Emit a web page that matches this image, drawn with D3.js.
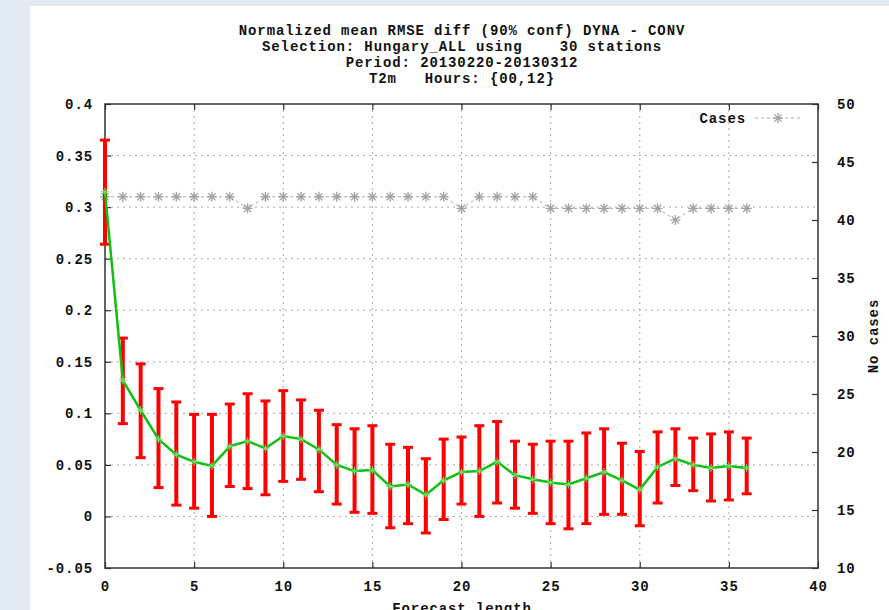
<!DOCTYPE html>
<html>
<head>
<meta charset="utf-8">
<script src="https://cdn.jsdelivr.net/npm/d3@7"></script>
<style>
  body { margin: 0; background: #e1ebf1; }
  svg { display: block; }
  text { font-family: "Liberation Mono", "DejaVu Sans Mono", monospace; font-weight: bold; font-size: 14px; letter-spacing: 0.9px; fill: #111; white-space: pre; }
</style>
</head>
<body>
<script>
// metrics
const width = 889, height = 610;
const plotLeft = 105, plotRight = 818, plotTop = 104, plotBottom = 568;

// data
const titleLines = [
  "Normalized mean RMSE diff (90% conf) DYNA - CONV",
  "Selection: Hungary_ALL using    30 stations",
  "Period: 20130220-20130312",
  "T2m   Hours: {00,12}"
];
const leadTimes = d3.range(0, 37);
const meanDiff = [0.315, 0.132, 0.103, 0.075, 0.060, 0.053, 0.049, 0.068, 0.073, 0.066,
  0.078, 0.075, 0.065, 0.050, 0.044, 0.045, 0.029, 0.031, 0.021, 0.035,
  0.043, 0.044, 0.053, 0.040, 0.036, 0.033, 0.031, 0.037, 0.043, 0.035,
  0.026, 0.048, 0.056, 0.050, 0.047, 0.049, 0.047];
const ciHigh = [0.365, 0.173, 0.148, 0.124, 0.111, 0.099, 0.099, 0.109, 0.119, 0.112,
  0.122, 0.113, 0.103, 0.089, 0.085, 0.088, 0.070, 0.067, 0.056, 0.075,
  0.077, 0.088, 0.092, 0.073, 0.070, 0.073, 0.073, 0.081, 0.085, 0.071,
  0.063, 0.082, 0.085, 0.076, 0.080, 0.082, 0.076];
const ciLow = [0.264, 0.090, 0.057, 0.028, 0.011, 0.008, 0.000, 0.029, 0.027, 0.021,
  0.034, 0.036, 0.024, 0.012, 0.004, 0.003, -0.011, -0.007, -0.016, -0.003,
  0.012, 0.000, 0.013, 0.008, 0.003, -0.007, -0.012, -0.007, 0.002, 0.002,
  -0.009, 0.013, 0.030, 0.025, 0.015, 0.016, 0.022];
const cases = [42, 42, 42, 42, 42, 42, 42, 42, 41, 42,
  42, 42, 42, 42, 42, 42, 42, 42, 42, 42,
  41, 42, 42, 42, 42, 41, 41, 41, 41, 41,
  41, 41, 40, 41, 41, 41, 41];
const xTicks = [0, 5, 10, 15, 20, 25, 30, 35, 40];
const yTicks = [-0.05, 0, 0.05, 0.1, 0.15, 0.2, 0.25, 0.3, 0.35, 0.4];
const y2Ticks = [10, 15, 20, 25, 30, 35, 40, 45, 50];

// elements
const svg = d3.select('body').append('svg')
  .attr('width', width)
  .attr('height', height);

svg.append('rect')
  .attr('x', 30).attr('y', 6)
  .attr('width', width - 30).attr('height', height - 6)
  .attr('fill', '#fff');

// scales
const xScale = d3.scaleLinear().domain([0, 40]).range([plotLeft, plotRight]);
const yScale = d3.scaleLinear().domain([-0.05, 0.4]).range([plotBottom, plotTop]);
const y2Scale = d3.scaleLinear().domain([10, 50]).range([plotBottom, plotTop]);

// title
svg.append('g').selectAll('text')
  .data(titleLines)
  .join('text')
  .attr('x', 462)
  .attr('y', (d, i) => 35 + i * 16)
  .attr('text-anchor', 'middle')
  .text(d => d);

// grid
const grid = svg.append('g')
  .attr('stroke', '#a8a8a8')
  .attr('stroke-dasharray', '2,4');
grid.selectAll('.gx')
  .data(xTicks.slice(1, -1))
  .join('line')
  .attr('x1', d => xScale(d)).attr('x2', d => xScale(d))
  .attr('y1', plotTop).attr('y2', plotBottom);
grid.selectAll('.gy')
  .data(yTicks.slice(1, -1))
  .join('line')
  .attr('x1', plotLeft).attr('x2', plotRight)
  .attr('y1', d => yScale(d)).attr('y2', d => yScale(d));

// axes
const tickFmt = d => String(d);
const axisStyle = g => {
  g.select('.domain').remove();
  g.selectAll('.tick line').attr('stroke', '#333').attr('stroke-width', 1.2);
  g.selectAll('.tick text').attr('fill', '#111').attr('font-size', null).attr('font-family', null);
};
svg.append('g')
  .attr('transform', `translate(${plotLeft},0)`)
  .call(d3.axisLeft(yScale).tickValues(yTicks).tickFormat(tickFmt).tickSize(-6).tickPadding(12))
  .call(axisStyle);
svg.append('g')
  .attr('transform', `translate(0,${plotBottom})`)
  .call(d3.axisBottom(xScale).tickValues(xTicks).tickFormat(tickFmt).tickSize(-6).tickPadding(13))
  .call(axisStyle);
svg.append('g')
  .attr('transform', `translate(0,${plotTop})`)
  .call(d3.axisTop(xScale).tickValues(xTicks).tickFormat('').tickSize(-6))
  .call(axisStyle);
svg.append('g')
  .attr('transform', `translate(${plotRight},0)`)
  .call(d3.axisRight(y2Scale).tickValues(y2Ticks).tickFormat(tickFmt).tickSize(-6).tickPadding(19))
  .call(axisStyle);

svg.append('rect')
  .attr('x', plotLeft).attr('y', plotTop)
  .attr('width', plotRight - plotLeft).attr('height', plotBottom - plotTop)
  .attr('fill', 'none')
  .attr('stroke', '#333')
  .attr('stroke-width', 1.5);

// axis titles
svg.append('text')
  .attr('x', 462).attr('y', 613)
  .attr('text-anchor', 'middle')
  .text('Forecast length');
svg.append('text')
  .attr('transform', `translate(878,${(plotTop + plotBottom) / 2}) rotate(-90)`)
  .attr('text-anchor', 'middle')
  .text('No cases');

// asterisk marker
const star = (g, x, y, r, color, w) => {
  const a = r * 0.72;
  [[-r, 0, r, 0], [0, -r, 0, r], [-a, -a, a, a], [-a, a, a, -a]].forEach(s => {
    g.append('line')
      .attr('x1', x + s[0]).attr('y1', y + s[1])
      .attr('x2', x + s[2]).attr('y2', y + s[3])
      .attr('stroke', color).attr('stroke-width', w);
  });
};

// cases series
const casesLine = d3.line()
  .x((d, i) => xScale(leadTimes[i]))
  .y(d => y2Scale(d));
svg.append('path')
  .datum(cases)
  .attr('d', casesLine)
  .attr('fill', 'none')
  .attr('stroke', '#a8a8a8')
  .attr('stroke-dasharray', '3,3');
const casesG = svg.append('g');
cases.forEach((d, i) => star(casesG, xScale(leadTimes[i]), y2Scale(d), 5, '#a0a0a0', 1.3));

// legend
svg.append('text')
  .attr('x', 746).attr('y', 123)
  .attr('text-anchor', 'end')
  .text('Cases');
svg.append('line')
  .attr('x1', 755).attr('x2', 800)
  .attr('y1', 118).attr('y2', 118)
  .attr('stroke', '#a8a8a8')
  .attr('stroke-dasharray', '3,3');
star(svg.append('g'), 778, 118, 5, '#a0a0a0', 1.3);

// error bars
const bars = svg.append('g').attr('stroke', '#ff0000');
bars.selectAll('.bar')
  .data(leadTimes)
  .join('line')
  .attr('x1', d => xScale(d)).attr('x2', d => xScale(d))
  .attr('y1', (d, i) => yScale(ciLow[i]))
  .attr('y2', (d, i) => yScale(ciHigh[i]))
  .attr('stroke-width', 4);
bars.selectAll('.capHi')
  .data(leadTimes)
  .join('line')
  .attr('x1', d => xScale(d) - 5).attr('x2', d => xScale(d) + 5)
  .attr('y1', (d, i) => yScale(ciHigh[i]))
  .attr('y2', (d, i) => yScale(ciHigh[i]))
  .attr('stroke-width', 3);
bars.selectAll('.capLo')
  .data(leadTimes)
  .join('line')
  .attr('x1', d => xScale(d) - 5).attr('x2', d => xScale(d) + 5)
  .attr('y1', (d, i) => yScale(ciLow[i]))
  .attr('y2', (d, i) => yScale(ciLow[i]))
  .attr('stroke-width', 3);

// mean diff line
const meanLine = d3.line()
  .x((d, i) => xScale(leadTimes[i]))
  .y(d => yScale(d));
svg.append('path')
  .datum(meanDiff)
  .attr('d', meanLine)
  .attr('fill', 'none')
  .attr('stroke', '#10c010')
  .attr('stroke-width', 2.5);
const meanG = svg.append('g');
meanDiff.forEach((d, i) => star(meanG, xScale(leadTimes[i]), yScale(d), 4, '#70e070', 1));
</script>
</body>
</html>
